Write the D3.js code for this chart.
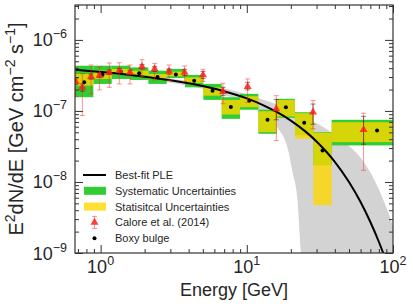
<!DOCTYPE html>
<html>
<head>
<meta charset="utf-8">
<script src="https://cdn.jsdelivr.net/npm/d3@7"></script>
<style>
  body { margin: 0; background: #fff; }
  text { font-family: "Liberation Sans", Arial, sans-serif; fill: #262626; }
</style>
</head>
<body>
<div class="main_area"></div>
<script>
// ---- data ----
const binEdges = [0.668, 0.892, 1.191, 1.589, 2.121, 2.831, 3.779, 5.045, 6.734, 8.987, 11.99, 16.01, 21.37, 28.53, 38.07, 100];
const bulgeEnergy = [0.772, 1.031, 1.376, 1.836, 2.451, 3.272, 4.366, 5.829, 7.779, 10.38, 13.86, 18.50, 24.69, 32.96, 77.8];
const bulgeFlux = [2.53e-7, 3.24e-7, 3.57e-7, 3.38e-7, 3.01e-7, 3.27e-7, 2.67e-7, 1.93e-7, 1.14e-7, 1.39e-7, 7.50e-8, 1.13e-7, 6.81e-8, 2.78e-8, 5.31e-8];
const sysLow  = [1.56e-7, 2.40e-7, 2.82e-7, 2.73e-7, 2.40e-7, 2.91e-7, 2.15e-7, 1.43e-7, 7.74e-8, 1.04e-7, 4.77e-8, 8.00e-8, 4.52e-8, 1.71e-8, 3.27e-8];
const sysHigh = [4.33e-7, 4.33e-7, 4.33e-7, 4.10e-7, 3.69e-7, 3.90e-7, 3.21e-7, 2.40e-7, 1.56e-7, 1.74e-7, 1.04e-7, 1.48e-7, 9.59e-8, 5.03e-8, 7.50e-8];
const statLow  = [2.27e-7, 2.82e-7, 3.31e-7, 3.14e-7, 2.82e-7, 3.07e-7, 2.48e-7, 1.64e-7, 8.90e-8, 1.13e-7, 5.03e-8, 8.35e-8, 4.06e-8, 4.71e-9, 3.64e-8];
const statHigh = [3.31e-7, 3.69e-7, 3.90e-7, 3.69e-7, 3.31e-7, 3.57e-7, 2.97e-7, 2.15e-7, 1.43e-7, 1.61e-7, 9.90e-8, 1.43e-7, 9.28e-8, 4.95e-8, 6.94e-8];

const caloreEnergy = [0.675, 0.750, 0.860, 0.984, 1.147, 1.342, 1.589, 1.919, 2.341, 2.937, 3.754, 5.016, 6.873, 10.13, 15.91, 28.37, 62.9];
const caloreFlux = [2.58e-7, 2.15e-7, 3.04e-7, 3.17e-7, 3.49e-7, 3.69e-7, 3.49e-7, 4.19e-7, 3.90e-7, 3.60e-7, 3.49e-7, 3.21e-7, 1.87e-7, 2.20e-7, 1.07e-7, 9.59e-8, 5.43e-8];
const caloreLow  = [1.60e-7, 8.62e-8, 1.74e-7, 1.98e-7, 2.15e-7, 2.40e-7, 2.40e-7, 3.04e-7, 2.73e-7, 2.67e-7, 2.61e-7, 2.61e-7, 1.26e-7, 1.32e-7, 3.84e-8, 5.61e-8, 1.46e-8];
const caloreHigh = [4.10e-7, 3.34e-7, 4.43e-7, 4.19e-7, 4.73e-7, 4.77e-7, 4.43e-7, 5.26e-7, 4.67e-7, 4.43e-7, 4.29e-7, 3.85e-7, 2.45e-7, 2.82e-7, 1.64e-7, 1.40e-7, 9.28e-8];
const caloreStatLow  = [2.35e-7, 1.90e-7, 2.80e-7, 2.95e-7, 3.25e-7, 3.45e-7, 3.25e-7, 3.90e-7, 3.60e-7, 3.30e-7, 3.15e-7, 2.85e-7, 1.64e-7, 1.98e-7, 7.50e-8, 6.50e-8, 3.40e-8];
const caloreStatHigh = [2.83e-7, 2.40e-7, 3.30e-7, 3.40e-7, 3.75e-7, 3.95e-7, 3.75e-7, 4.50e-7, 4.20e-7, 3.90e-7, 3.85e-7, 3.60e-7, 2.15e-7, 2.53e-7, 1.45e-7, 1.25e-7, 8.40e-8];

const fitEnergy = [0.668, 1, 1.5, 2, 3, 4, 5, 7, 10, 13, 16, 20, 25, 30, 35, 40, 50, 60, 70, 80, 90, 100];
const fitFlux = [3.81e-7, 3.54e-7, 3.26e-7, 3.04e-7, 2.71e-7, 2.45e-7, 2.24e-7, 1.89e-7, 1.50e-7, 1.20e-7, 9.67e-8, 7.32e-8, 5.20e-8, 3.72e-8, 2.66e-8, 1.92e-8, 9.96e-9, 5.21e-9, 2.73e-9, 1.44e-9, 7.57e-10, 4.0e-10];

const bandEnergy = [0.668, 1, 2, 3, 5, 7, 10, 13, 16, 19.2, 20.5, 22.2, 23.5, 30, 40, 50, 60, 70, 80, 90, 100];
const bandHigh = [4.2e-7, 3.82e-7, 3.22e-7, 2.87e-7, 2.40e-7, 2.08e-7, 1.72e-7, 1.44e-7, 1.24e-7, 1.05e-7, 9.8e-8, 8.9e-8, 8.4e-8, 6.7e-8, 4.6e-8, 3.2e-8, 2.2e-8, 1.37e-8, 7.9e-9, 4.4e-9, 2.4e-9];
const bandLow  = [3.65e-7, 3.35e-7, 2.85e-7, 2.50e-7, 2.05e-7, 1.68e-7, 1.25e-7, 9.0e-8, 6.0e-8, 2.8e-8, 1.4e-8, 5.6e-9, 1.0e-9, 1e-10, 1e-10, 1e-10, 1e-10, 1e-10, 1e-10, 1e-10, 1e-10];

const xMajorTicks = [1, 10, 100];
const xTickExponents = ["0", "1", "2"];
const yMajorTicks = [1e-9, 1e-8, 1e-7, 1e-6];
const yTickExponents = ["\u22129", "\u22128", "\u22127", "\u22126"];
const legendLabels = ["Best-fit PLE", "Systematic Uncertainties", "Statisitcal Uncertainties", "Calore et al. (2014)", "Boxy bulge"];

// ---- layout ----
const width = 413, height = 306;
const margin = {top: 5, right: 20, bottom: 53, left: 75};
const plotW = width - margin.left - margin.right;
const plotH = height - margin.top - margin.bottom;

const green = "#32cd32";
const yellow = "rgba(255,215,0,0.8)";
const frameColor = "#333333";

const svg = d3.select(".main_area")
  .append("svg")
  .attr("width", width)
  .attr("height", height);

const plot = svg.append("g")
  .attr("transform", "translate(" + [margin.left, margin.top] + ")");

const x = d3.scaleLog().domain([0.668, 100]).range([0, plotW]);
const y = d3.scaleLog().domain([1e-9, 3.1e-6]).range([plotH, 0]);

plot.append("clipPath").attr("id", "clip")
  .append("rect").attr("width", plotW).attr("height", plotH);

const area = plot.append("g").attr("clip-path", "url(#clip)");

// grey band of the fit
const band = d3.area()
  .x((d, i) => x(bandEnergy[i]))
  .y0((d, i) => y(bandLow[i]))
  .y1((d, i) => y(bandHigh[i]))
  .curve(d3.curveMonotoneX);
area.append("path")
  .datum(bandEnergy)
  .attr("d", band)
  .attr("fill", "#d3d3d3");

// systematic boxes
area.selectAll(".sys")
  .data(sysLow)
  .enter().append("rect")
    .attr("class", "sys")
    .attr("x", (d, i) => x(binEdges[i]))
    .attr("width", (d, i) => x(binEdges[i + 1]) - x(binEdges[i]))
    .attr("y", (d, i) => y(sysHigh[i]))
    .attr("height", (d, i) => y(sysLow[i]) - y(sysHigh[i]))
    .attr("fill", green);

// statistical boxes
area.selectAll(".stat")
  .data(statLow)
  .enter().append("rect")
    .attr("class", "stat")
    .attr("x", (d, i) => x(binEdges[i]))
    .attr("width", (d, i) => x(binEdges[i + 1]) - x(binEdges[i]))
    .attr("y", (d, i) => y(statHigh[i]))
    .attr("height", (d, i) => y(statLow[i]) - y(statHigh[i]))
    .attr("fill", yellow);

// best-fit line
const fitLine = d3.line()
  .x((d, i) => x(fitEnergy[i]))
  .y(d => y(d))
  .curve(d3.curveMonotoneX);
area.append("path")
  .datum(fitFlux)
  .attr("d", fitLine)
  .attr("fill", "none")
  .attr("stroke", "#000")
  .attr("stroke-width", 2);

// boxy bulge dots
area.selectAll(".dot")
  .data(bulgeFlux)
  .enter().append("circle")
    .attr("cx", (d, i) => x(bulgeEnergy[i]))
    .attr("cy", d => y(d))
    .attr("r", 2)
    .attr("fill", "#000");

// Calore et al. error bars and triangles
function errorBar(g, cx, y1, y2, color, cap) {
  g.append("line").attr("x1", cx).attr("x2", cx).attr("y1", y1).attr("y2", y2)
    .attr("stroke", color).attr("stroke-width", 1);
  [y1, y2].forEach(yy => g.append("line")
    .attr("x1", cx - cap).attr("x2", cx + cap).attr("y1", yy).attr("y2", yy)
    .attr("stroke", color).attr("stroke-width", 1));
}
const tri = d3.symbol().type(d3.symbolTriangle).size(28);

const calore = area.append("g");
caloreFlux.forEach(function(f, i) {
  const cx = x(caloreEnergy[i]);
  errorBar(calore, cx, y(caloreHigh[i]), y(caloreLow[i]), "rgba(255,40,40,0.5)", 2.5);
  errorBar(calore, cx, y(caloreStatHigh[i]), y(caloreStatLow[i]), "rgba(60,20,20,0.55)", 2.5);
  calore.append("path")
    .attr("d", tri)
    .attr("transform", "translate(" + [cx, y(f)] + ")")
    .attr("fill", "rgba(255,30,30,0.85)");
});

// ---- axes ----
function minorTicks(lo, hi) {
  const out = [];
  for (let e = Math.floor(Math.log10(lo)); e <= Math.ceil(Math.log10(hi)); e++) {
    for (let m = 2; m <= 9; m++) {
      const v = m * Math.pow(10, e);
      if (v >= lo && v <= hi) out.push(v);
    }
  }
  return out;
}
const xMinor = minorTicks(0.668, 100);
const yMinor = minorTicks(1e-9, 3.1e-6);

function styleAxis(g) {
  g.select(".domain").remove();
  g.selectAll("line").attr("stroke", frameColor).attr("stroke-width", 1);
}

plot.append("g").attr("transform", "translate(0," + plotH + ")")
  .call(d3.axisBottom(x).tickValues(xMajorTicks).tickSize(-8).tickFormat("")).call(styleAxis);
plot.append("g").attr("transform", "translate(0," + plotH + ")")
  .call(d3.axisBottom(x).tickValues(xMinor).tickSize(-4).tickFormat("")).call(styleAxis);
plot.append("g")
  .call(d3.axisTop(x).tickValues(xMajorTicks).tickSize(-8).tickFormat("")).call(styleAxis);
plot.append("g")
  .call(d3.axisTop(x).tickValues(xMinor).tickSize(-4).tickFormat("")).call(styleAxis);
plot.append("g")
  .call(d3.axisLeft(y).tickValues(yMajorTicks).tickSize(-8).tickFormat("")).call(styleAxis);
plot.append("g")
  .call(d3.axisLeft(y).tickValues(yMinor).tickSize(-4).tickFormat("")).call(styleAxis);
plot.append("g").attr("transform", "translate(" + plotW + ",0)")
  .call(d3.axisRight(y).tickValues(yMajorTicks).tickSize(-8).tickFormat("")).call(styleAxis);
plot.append("g").attr("transform", "translate(" + plotW + ",0)")
  .call(d3.axisRight(y).tickValues(yMinor).tickSize(-4).tickFormat("")).call(styleAxis);

plot.append("rect")
  .attr("width", plotW).attr("height", plotH)
  .attr("fill", "none").attr("stroke", frameColor).attr("stroke-width", 1.2);

// tick labels with superscripts
xMajorTicks.forEach(function(t, i) {
  const lab = plot.append("text")
    .attr("x", x(t)).attr("y", plotH + 20)
    .attr("text-anchor", "middle")
    .style("font-size", "18px");
  lab.append("tspan").text("10");
  lab.append("tspan").attr("dy", -8).style("font-size", "12.5px").text(xTickExponents[i]);
});
yMajorTicks.forEach(function(t, i) {
  const lab = plot.append("text")
    .attr("x", -8).attr("y", y(t) + 6.5)
    .attr("text-anchor", "end")
    .style("font-size", "18px");
  lab.append("tspan").text("10");
  lab.append("tspan").attr("dy", -8).style("font-size", "12.5px").text(yTickExponents[i]);
});

// axis titles
plot.append("text")
  .attr("x", plotW / 2).attr("y", plotH + 43)
  .attr("text-anchor", "middle")
  .style("font-size", "18px")
  .text("Energy [GeV]");

const yl = svg.append("text")
  .attr("transform", "translate(23," + (margin.top + plotH / 2) + ") rotate(-90)")
  .attr("text-anchor", "middle")
  .style("font-size", "20px");
yl.append("tspan").text("E");
yl.append("tspan").attr("dy", -8).style("font-size", "14px").text("2");
yl.append("tspan").attr("dy", 8).text("dN/dE [GeV cm");
yl.append("tspan").attr("dy", -8).style("font-size", "14px").text("\u22122");
yl.append("tspan").attr("dy", 8).text(" s");
yl.append("tspan").attr("dy", -8).style("font-size", "14px").text("\u22121");
yl.append("tspan").attr("dy", 8).text("]");

// ---- legend ----
const legend = plot.append("g").attr("transform", "translate(8,170)");
const rowH = 15.8;
legendLabels.forEach(function(label, i) {
  const row = legend.append("g").attr("transform", "translate(0," + (i * rowH) + ")");
  if (i === 0) {
    row.append("line").attr("x1", 0).attr("x2", 23).attr("y1", 0).attr("y2", 0)
      .attr("stroke", "#000").attr("stroke-width", 2);
  } else if (i === 1 || i === 2) {
    row.append("rect").attr("x", 1).attr("y", -4).attr("width", 22).attr("height", 8)
      .attr("fill", i === 1 ? green : yellow);
  } else if (i === 3) {
    errorBar(row, 11.5, -6, 6, "rgba(255,40,40,0.5)", 2.5);
    row.append("path").attr("d", tri).attr("transform", "translate(11.5,0)")
      .attr("fill", "rgba(255,30,30,0.85)");
  } else {
    row.append("circle").attr("cx", 11.5).attr("cy", 0).attr("r", 2).attr("fill", "#000");
  }
  row.append("text").attr("x", 32).attr("y", 4)
    .style("font-size", "11px")
    .text(label);
});
</script>
</body>
</html>
